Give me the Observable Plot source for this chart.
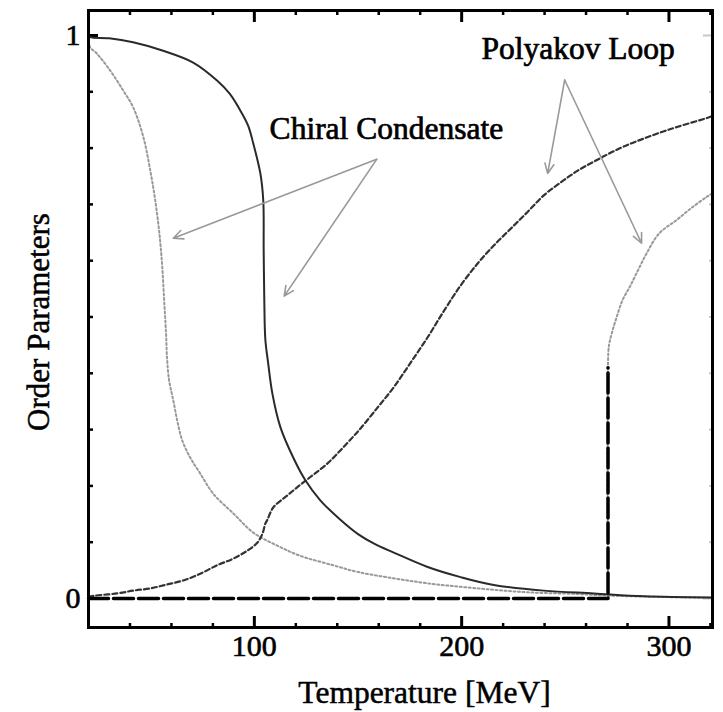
<!DOCTYPE html>
<html><head><meta charset="utf-8">
<script src="https://cdn.jsdelivr.net/npm/d3@7"></script>
<script src="https://cdn.jsdelivr.net/npm/@observablehq/plot@0.6"></script>
<style>body{margin:0;background:#fff}</style>
</head><body><div id="chart"></div>
<script>
// Chiral condensate, case A (solid)
const chiralA_T = [20, 20.8, 30, 41.5, 56, 70.5, 82, 88, 93.2, 97, 99.5, 102.9, 104.3, 104.5, 104.8, 105.3, 106.6, 108.7, 112.6, 118.8, 124.6, 131.9, 141.5, 150.2, 158, 167, 183.6, 199.5, 215.5, 239.6, 263.8, 288, 321];
const chiralA_v = [1.0, 0.997, 0.995, 0.988, 0.973, 0.952, 0.92, 0.897, 0.867, 0.84, 0.808, 0.755, 0.707, 0.62, 0.53, 0.46, 0.42, 0.364, 0.304, 0.250, 0.210, 0.174, 0.140, 0.114, 0.097, 0.082, 0.056, 0.038, 0.024, 0.014, 0.009, 0.004, 0.002];
// Chiral condensate, case B (dotted grey)
const chiralB_T = [20, 20.8, 24, 30.4, 36.8, 41.6, 46.5, 49.8, 52.2, 54.2, 55.6, 56.5, 57.4, 57.9, 58.9, 60.9, 62.8, 65.2, 69.1, 73.9, 80.2, 89.9, 99.5, 111, 122, 138, 150, 167, 183.6, 207.7, 231.9, 256, 272, 321];
const chiralB_v = [0.99, 0.979, 0.968, 0.938, 0.902, 0.872, 0.819, 0.760, 0.707, 0.648, 0.588, 0.529, 0.471, 0.426, 0.387, 0.352, 0.316, 0.281, 0.250, 0.222, 0.186, 0.151, 0.117, 0.094, 0.076, 0.059, 0.047, 0.036, 0.027, 0.018, 0.011, 0.008, 0.005, 0.001];
// Polyakov loop, case A (dashed)
const polyA_T = [20, 23, 33.8, 41.6, 49.8, 58, 65.7, 73.9, 82, 89.9, 96.6, 101.4, 103.9, 105.3, 106.3, 109.2, 115.9, 122.2, 128.5, 135.3, 141.5, 147.8, 151.2, 159.4, 167.2, 175.4, 183.6, 191.3, 199.5, 207.7, 215.5, 223.7, 231.9, 239.6, 247.8, 256, 263.8, 272, 280.2, 287.9, 296.1, 304.3, 318.8, 321];
const polyA_v = [0.003, 0.005, 0.009, 0.014, 0.018, 0.025, 0.032, 0.044, 0.059, 0.071, 0.085, 0.099, 0.115, 0.133, 0.140, 0.162, 0.183, 0.202, 0.220, 0.240, 0.263, 0.288, 0.302, 0.339, 0.375, 0.419, 0.464, 0.510, 0.556, 0.595, 0.627, 0.657, 0.687, 0.716, 0.739, 0.760, 0.776, 0.792, 0.806, 0.817, 0.828, 0.838, 0.854, 0.857];
// Polyakov loop, case B (black dashed at zero, then dotted grey)
const polyBzero_T = [20, 270.6, 270.6];
const polyBzero_v = [0, 0, 0.41];
const polyB_T = [270.6, 270.8, 271.4, 272.8, 274.7, 277.6, 281.0, 284.4, 289.2, 295.4, 303.6, 311.3, 318.1, 321];
const polyB_v = [0, 0.44, 0.456, 0.476, 0.499, 0.530, 0.553, 0.578, 0.613, 0.649, 0.672, 0.695, 0.713, 0.72];

// Ticks
const xMajorTicks = [100, 200, 300];
const xMinorTicks = [40, 60, 80, 120, 140, 160, 180, 220, 240, 260, 280, 320];
const yMajorTicks = [0, 1];
const yMinorTicks = [0.1, 0.2, 0.3, 0.4, 0.5, 0.6, 0.7, 0.8, 0.9];

// Annotations
const labelText = ["Chiral Condensate", "Polyakov Loop"];
const labelT = [163.7, 256.2];
const labelV = [0.834, 0.977];
const arrowFromT = [159.0, 159.0, 249.7, 249.7];
const arrowFromV = [0.780, 0.780, 0.921, 0.921];
const arrowToT = [60.9, 114.4, 241.5, 286.8];
const arrowToV = [0.640, 0.537, 0.755, 0.631];

const pts = (T, V) => T.map((t, i) => ({T: t, v: V[i]}));
const labels = labelText.map((s, i) => ({s, T: labelT[i], v: labelV[i]}));
const arrows = arrowFromT.map((t, i) => ({x1: t, y1: arrowFromV[i], x2: arrowToT[i], y2: arrowToV[i]}));

const font = "'Liberation Serif', 'Times New Roman', serif";
const smooth = "catmull-rom";

const chart = Plot.plot({
  width: 723, height: 712,
  marginLeft: 88, marginRight: 11, marginTop: 10, marginBottom: 85,
  x: {domain: [20, 321]},
  y: {domain: [-0.0515, 1.0444]},
  style: {fontFamily: font, background: "white", color: "black"},
  marks: [
    // inward ticks
    Plot.axisX(xMinorTicks, {anchor: "bottom", tickSize: -4, strokeWidth: 2.5, fill: "none"}),
    Plot.axisX(xMajorTicks, {anchor: "bottom", tickSize: -11, strokeWidth: 3, fill: "none"}),
    Plot.axisX(xMinorTicks, {anchor: "top", tickSize: -4, strokeWidth: 2.5, fill: "none"}),
    Plot.axisX(xMajorTicks, {anchor: "top", tickSize: -11, strokeWidth: 3, fill: "none"}),
    Plot.axisY(yMinorTicks, {anchor: "left", tickSize: -5, strokeWidth: 2.5, fill: "none"}),
    Plot.axisY(yMajorTicks, {anchor: "left", tickSize: -10, strokeWidth: 3, fill: "none"}),
    Plot.axisY(yMinorTicks, {anchor: "right", tickSize: -4, strokeWidth: 2, stroke: "#c8c8c8", fill: "none"}),
    Plot.axisY(yMajorTicks, {anchor: "right", tickSize: -10, strokeWidth: 2, stroke: "#c8c8c8", fill: "none"}),
    // tick labels
    Plot.axisX(xMajorTicks, {anchor: "bottom", tickSize: 0, tickPadding: 7, fontSize: 30, fontFamily: font, label: null, tickFormat: d => String(d), textStroke: "black", textStrokeWidth: 0.6}),
    Plot.axisY(yMajorTicks, {anchor: "left", tickSize: 0, tickPadding: 8, fontSize: 30, fontFamily: font, label: null, tickFormat: d => String(d), textStroke: "black", textStrokeWidth: 0.6}),
    // curves
    Plot.line(pts(chiralB_T, chiralB_v), {x: "T", y: "v", curve: smooth, stroke: "#999", strokeWidth: 2, strokeDasharray: "2,2.5"}),
    Plot.line(pts(polyB_T, polyB_v), {x: "T", y: "v", curve: smooth, stroke: "#999", strokeWidth: 2, strokeDasharray: "2,2.5"}),
    Plot.line(pts(polyA_T, polyA_v), {x: "T", y: "v", curve: smooth, stroke: "#333", strokeWidth: 2.2, strokeDasharray: "5,3"}),
    Plot.line(pts(chiralA_T, chiralA_v), {x: "T", y: "v", curve: smooth, stroke: "#2a2a2a", strokeWidth: 2}),
    Plot.line(pts(polyBzero_T, polyBzero_v), {x: "T", y: "v", stroke: "#000", strokeWidth: 3.5, strokeDasharray: "20,5"}),
    // annotations
    Plot.arrow(arrows, {x1: "x1", y1: "y1", x2: "x2", y2: "y2", stroke: "#999", strokeWidth: 1.6, headLength: 10, headAngle: 50}),
    Plot.text(labels, {x: "T", y: "v", text: "s", fontSize: 31.5, fontFamily: font, fill: "black", stroke: "black", strokeWidth: 0.7}),
    // axis titles
    Plot.text(["Temperature [MeV]"], {frameAnchor: "bottom", textAnchor: "middle", lineAnchor: "top", dx: 24, dy: 53, fontSize: 31.5, fontFamily: font, fill: "black", stroke: "black", strokeWidth: 0.5}),
    Plot.text(["Order Parameters"], {frameAnchor: "left", textAnchor: "middle", rotate: -90, lineAnchor: "middle", dx: -49, dy: 3, fontSize: 31, fontFamily: font, fill: "black", stroke: "black", strokeWidth: 0.5}),
    Plot.frame({strokeWidth: 3, stroke: "black"})
  ]
});
document.getElementById("chart").append(chart);
</script>
</body></html>
